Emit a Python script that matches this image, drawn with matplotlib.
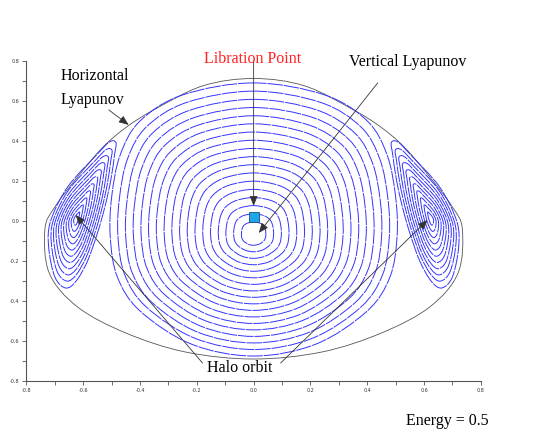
import numpy as np
import matplotlib
matplotlib.use("Agg")
import matplotlib.pyplot as plt
from matplotlib.path import Path
from matplotlib.patches import PathPatch

plt.rcParams['axes.unicode_minus'] = False

# ---- data (data units) ----
# zero-velocity boundary (right half, top to bottom); mirrored for left half
boundary_x = [0.0, 0.18, 0.352, 0.447, 0.53, 0.62, 0.70, 0.735, 0.72, 0.62, 0.45, 0.24, 0.0]
boundary_y = [0.712, 0.675, 0.555, 0.47, 0.37, 0.22, 0.07, -0.04, -0.26, -0.43, -0.56, -0.655, -0.69]

# central (vertical Lyapunov) family: outermost loop and centre
central_center = (0.0, -0.07)
central_outer_x = [0.0, -0.25, -0.40, -0.47, -0.50, -0.505, -0.48, -0.40, -0.22, 0.0,
                   0.22, 0.40, 0.48, 0.505, 0.50, 0.47, 0.40, 0.25]
central_outer_y = [0.69, 0.63, 0.50, 0.33, 0.12, -0.08, -0.28, -0.45, -0.615, -0.675,
                   -0.615, -0.45, -0.28, -0.08, 0.12, 0.33, 0.50, 0.63]
central_scales = [0.085, 0.139, 0.193, 0.246, 0.300, 0.354, 0.408, 0.462, 0.515,
                  0.569, 0.623, 0.677, 0.731, 0.784, 0.838, 0.892, 0.946, 1.0]

# side (halo) family, right one; left one is its mirror image
halo_center = (0.625, 0.01)
halo_outer_x = [0.485, 0.490, 0.503, 0.524, 0.550, 0.585, 0.625, 0.662, 0.70,
                0.722, 0.715, 0.655, 0.55, 0.508]
halo_outer_y = [0.392, 0.33, 0.205, 0.07, -0.06, -0.20, -0.30, -0.335, -0.28,
                -0.13, 0.0, 0.17, 0.335, 0.395]
halo_scales = [0.09, 0.18, 0.27, 0.36, 0.45, 0.54, 0.63, 0.72, 0.81, 0.90, 1.0]

x_ticks = [-0.8, -0.6, -0.4, -0.2, 0.0, 0.2, 0.4, 0.6, 0.8]
y_ticks = [-0.8, -0.6, -0.4, -0.2, 0.0, 0.2, 0.4, 0.6, 0.8]


def closed_smooth_path(xs, ys):
    """Closed Catmull-Rom curve through control points as Bezier path."""
    P = np.column_stack([xs, ys])
    n = len(P)
    verts = [P[0]]
    codes = [Path.MOVETO]
    for i in range(n):
        p0, p1, p2, p3 = P[(i - 1) % n], P[i], P[(i + 1) % n], P[(i + 2) % n]
        b1 = p1 + (p2 - p0) / 6.0
        b2 = p2 - (p3 - p1) / 6.0
        verts += [b1, b2, p2]
        codes += [Path.CURVE4] * 3
    return Path(np.array(verts), codes)


fig = plt.figure(figsize=(5.52, 4.32), dpi=100)
ax = fig.add_axes([0.048, 0.118, 0.823, 0.741])
ax.set_xlim(-0.8, 0.8)
ax.set_ylim(-0.8, 0.8)

loop_color = (0.2, 0.2, 1.0)
loop_kw = dict(fill=False, edgecolor=loop_color, linewidth=0.7, linestyle=(0, (16, 1.0)))

# boundary
bx = list(boundary_x) + [-v for v in boundary_x[-2:0:-1]]
by = list(boundary_y) + list(boundary_y[-2:0:-1])
ax.add_patch(PathPatch(closed_smooth_path(bx, by), fill=False, edgecolor='#555555', linewidth=0.6))

# central family
cx0, cy0 = central_center
for s in central_scales:
    xs = [cx0 + s * (x - cx0) for x in central_outer_x]
    ys = [cy0 + s * (y - cy0) for y in central_outer_y]
    ax.add_patch(PathPatch(closed_smooth_path(xs, ys), **loop_kw))

# halo families
hx0, hy0 = halo_center
for sign in (1, -1):
    for s in halo_scales:
        xs = [sign * (hx0 + s * (x - hx0)) for x in halo_outer_x]
        ys = [hy0 + s * (y - hy0) for y in halo_outer_y]
        ax.add_patch(PathPatch(closed_smooth_path(xs, ys), **loop_kw))

# libration point marker
ax.plot([0.0], [0.02], marker='s', markersize=6.5, markerfacecolor='#1fa6e8',
        markeredgecolor='#1a4f7a', markeredgewidth=0.6, linestyle='none', zorder=5)

arrow_kw = dict(arrowstyle='-|>,head_length=0.5,head_width=0.2', color='#333333',
                lw=0.6, shrinkA=0, shrinkB=0, mutation_scale=12)
ax.annotate('', xy=(0.0, 0.075), xytext=(0.0, 0.8), arrowprops=arrow_kw, annotation_clip=False)
ax.annotate('', xy=(0.018, -0.06), xytext=(0.437, 0.69), arrowprops=arrow_kw)
ax.annotate('', xy=(-0.44, 0.48), xytext=(-0.51, 0.555), arrowprops=arrow_kw)
ax.annotate('', xy=(-0.627, 0.03), xytext=(-0.18, -0.71), arrowprops=arrow_kw)
ax.annotate('', xy=(0.613, 0.005), xytext=(0.095, -0.71), arrowprops=arrow_kw)

# axes styling
for side in ('top', 'right'):
    ax.spines[side].set_visible(False)
for side in ('left', 'bottom'):
    ax.spines[side].set_color('#555555')
    ax.spines[side].set_linewidth(0.8)
ax.set_xticks(x_ticks)
ax.set_yticks(y_ticks)
ax.set_xticklabels([f"{v:.1f}" for v in x_ticks])
ax.set_yticklabels([f"{v:.1f}" for v in y_ticks])
ax.set_xticks(np.arange(-0.7, 0.8, 0.2), minor=True)
ax.set_yticks(np.arange(-0.7, 0.8, 0.2), minor=True)
ax.tick_params(which='both', direction='out', length=3, width=0.6, color='#555555',
               labelsize=3.5, labelcolor='#333333', pad=2)

serif = ['Liberation Serif', 'DejaVu Serif']
fig.text(0.458, 0.854, 'Libration Point', color='#ff2020', fontsize=11.5, family=serif,
         ha='center', va='baseline')
fig.text(0.739, 0.847, 'Vertical Lyapunov', color='black', fontsize=11.5, family=serif,
         ha='center', va='baseline')
fig.text(0.109, 0.815, 'Horizontal', color='black', fontsize=11.5, family=serif,
         ha='left', va='baseline')
fig.text(0.109, 0.759, 'Lyapunov', color='black', fontsize=11.5, family=serif,
         ha='left', va='baseline')
fig.text(0.435, 0.139, 'Halo orbit', color='black', fontsize=11.5, family=serif,
         ha='center', va='baseline')
fig.text(0.81, 0.016, 'Energy = 0.5', color='black', fontsize=11.5, family=serif,
         ha='center', va='baseline')

fig.savefig('out.png', dpi=100)
